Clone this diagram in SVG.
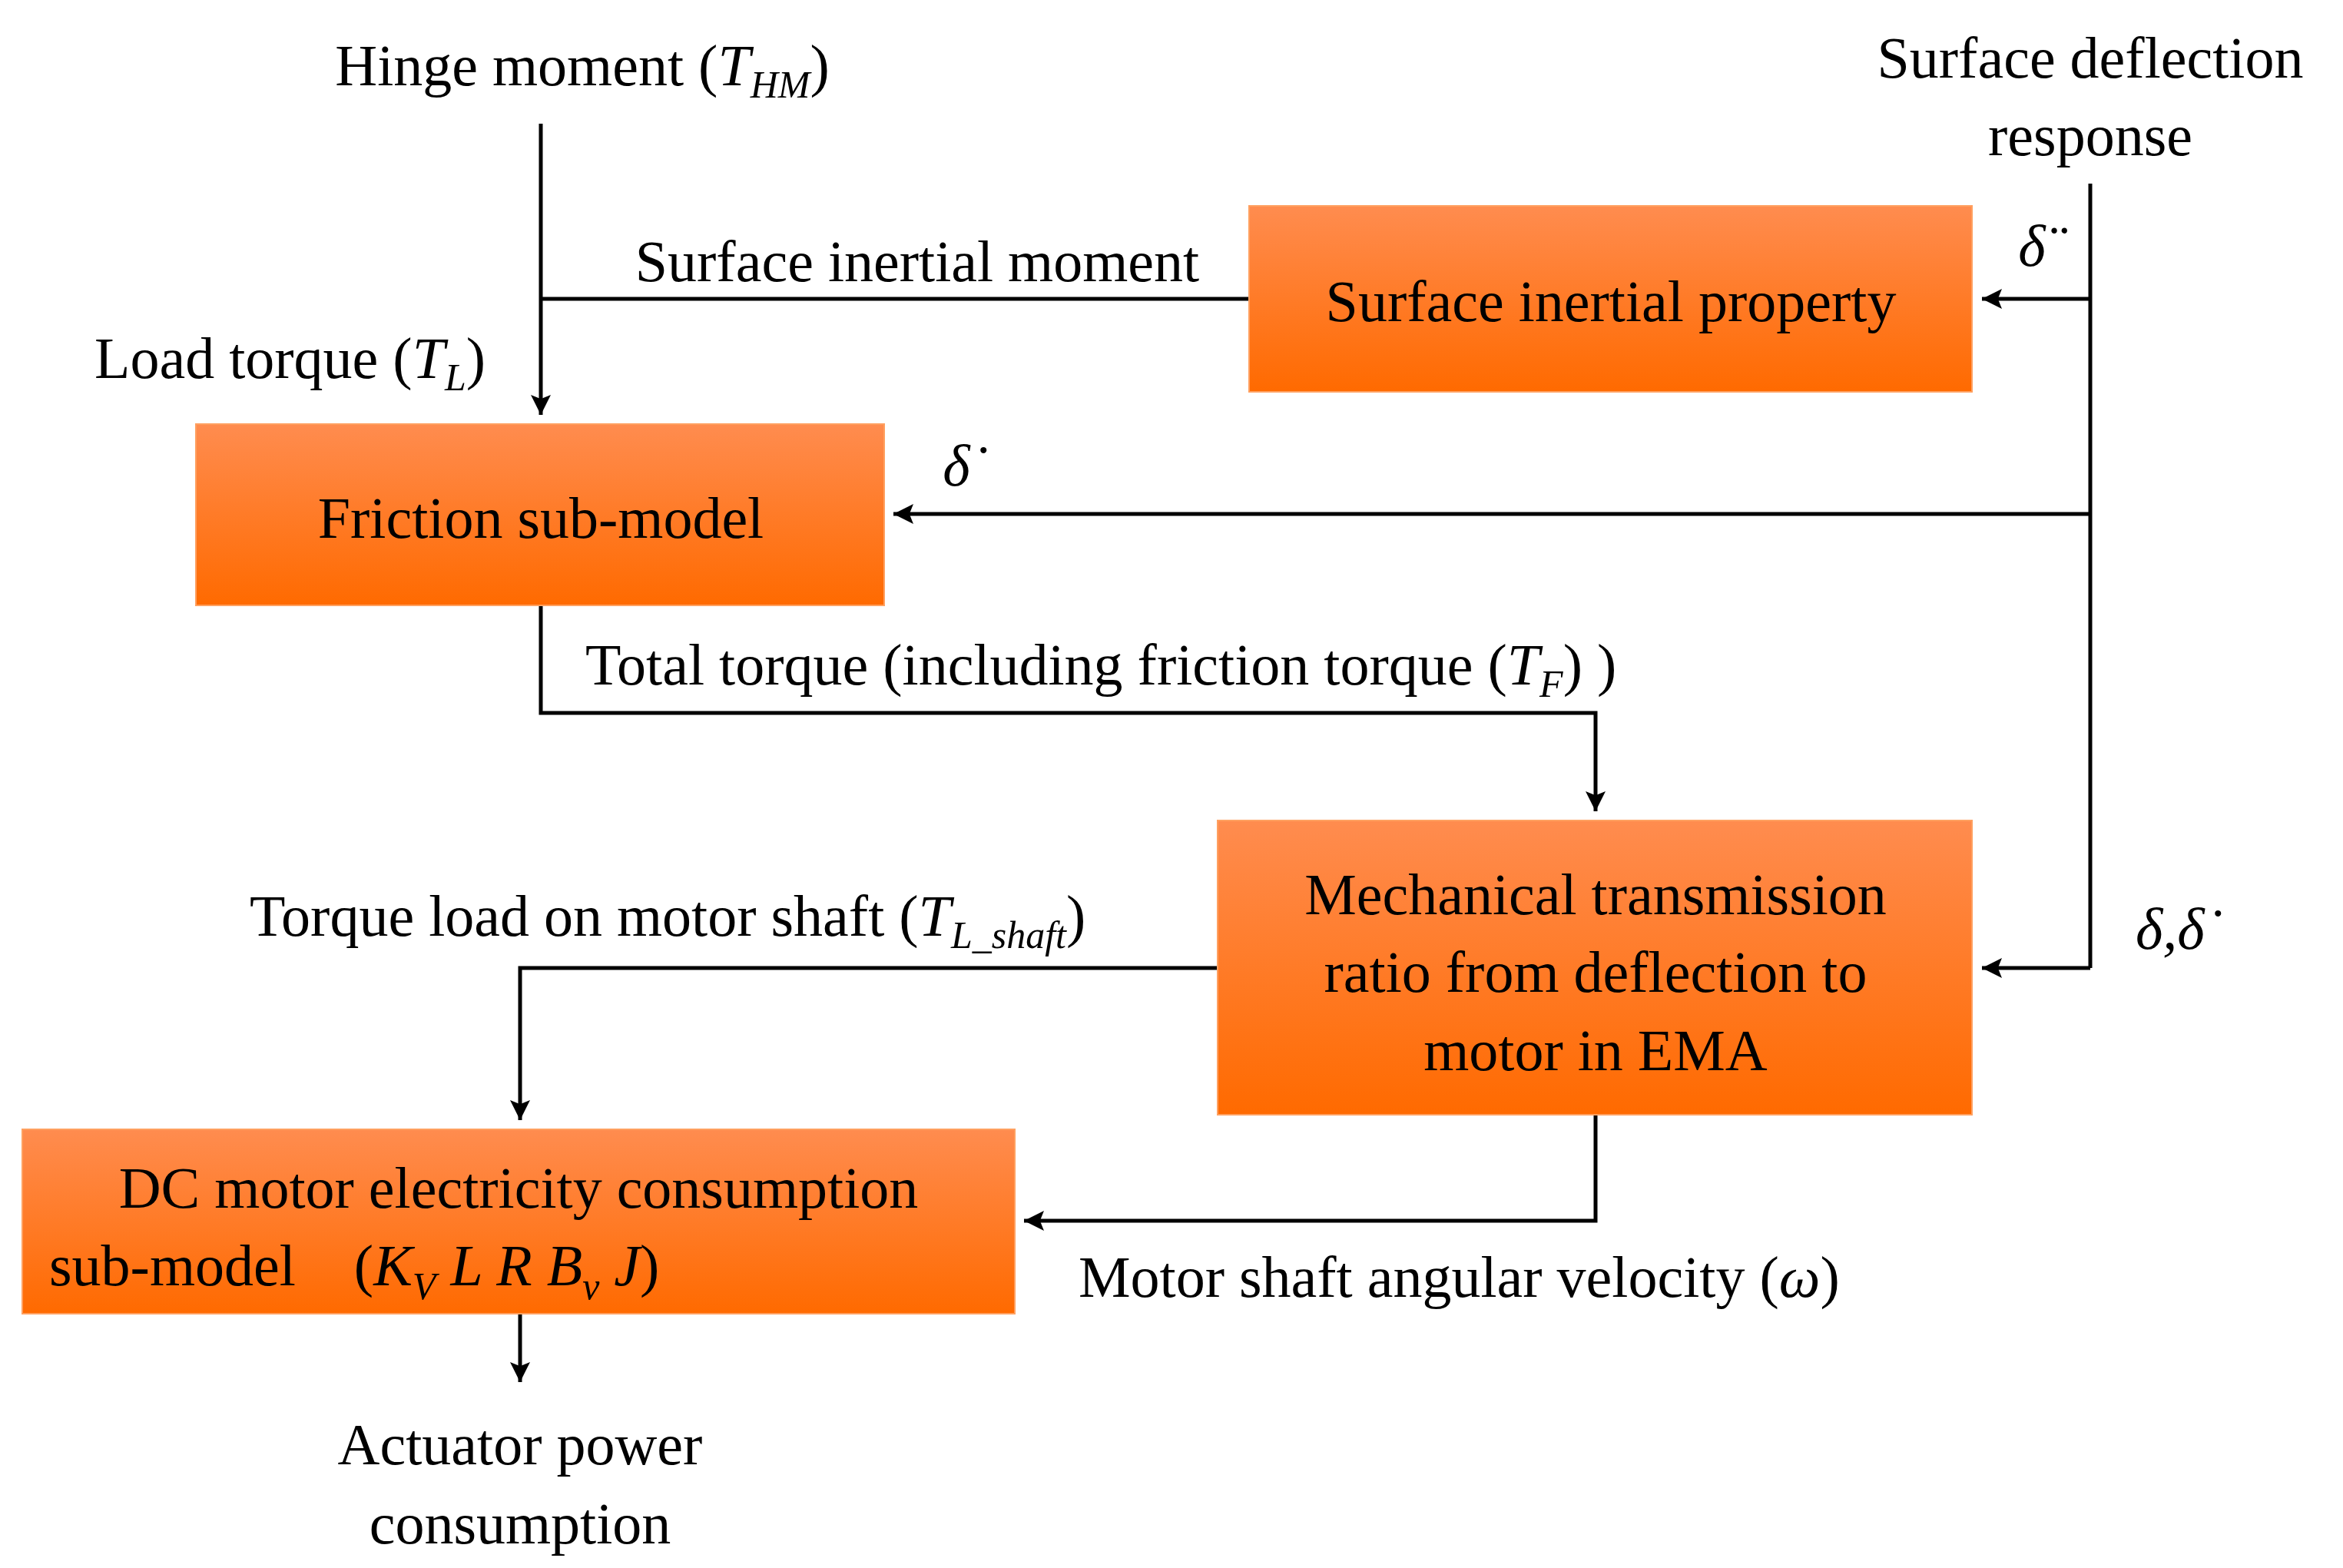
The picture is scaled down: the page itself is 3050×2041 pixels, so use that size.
<svg xmlns="http://www.w3.org/2000/svg" width="3050" height="2041" viewBox="0 0 3050 2041">
<defs>
<linearGradient id="g" x1="0" y1="0" x2="0" y2="1"><stop offset="0" stop-color="#FF8C4F"/><stop offset="1" stop-color="#FF6A00"/></linearGradient>
<marker id="a" viewBox="0 0 10 10" refX="10" refY="5" markerWidth="6" markerHeight="6" markerUnits="userSpaceOnUse" orient="auto"><path d="M0,0 L10,5 L0,10 L2,5 z" fill="#000"/></marker>
<style>
text{font-family:"Liberation Serif","Times New Roman",serif;font-size:76px;fill:#000}
.m{text-anchor:middle}
.i{font-style:italic}
.s{font-size:50px;font-style:italic}
rect{fill:url(#g);stroke:#FFA060;stroke-width:2}
.c{fill:none;stroke:#000;stroke-width:5;marker-end:url(#a)}
.n{fill:none;stroke:#000;stroke-width:5}
</style>
<marker id="b" viewBox="0 0 10 10" refX="10" refY="5" markerWidth="26" markerHeight="26" markerUnits="userSpaceOnUse" orient="auto"><path d="M0,0 L10,5 L0,10 L2,5 z" fill="#000"/></marker>
</defs>
<rect width="3050" height="2041" fill="#fff" stroke="none" style="fill:#fff;stroke:none"/>
<g id="connectors">
<path class="n" d="M704,161 V540" style="marker-end:url(#b)"/>
<path class="n" d="M704,389 H1626"/>
<path class="n" d="M2721,239 V1260"/>
<path class="n" d="M2721,389 H2580" style="marker-end:url(#b)"/>
<path class="n" d="M2721,669 H1163" style="marker-end:url(#b)"/>
<path class="n" d="M2721,1260 H2580" style="marker-end:url(#b)"/>
<path class="n" d="M704,788 V928 H2077 V1056" style="marker-end:url(#b)"/>
<path class="n" d="M1585,1260 H677 V1458" style="marker-end:url(#b)"/>
<path class="n" d="M2077,1451 V1589 H1333" style="marker-end:url(#b)"/>
<path class="n" d="M677,1710 V1799" style="marker-end:url(#b)"/>
</g>
<g id="surface-inertial"><rect x="1626" y="268" width="941" height="242"/><text class="m" x="2097" y="418">Surface inertial property</text></g>
<g id="friction"><rect x="255" y="552" width="896" height="236"/><text class="m" x="704" y="700">Friction sub-model</text></g>
<g id="mechanical"><rect x="1585" y="1068" width="982" height="383"/>
<text class="m" x="2077" y="1190">Mechanical transmission</text><text class="m" x="2077" y="1291">ratio from deflection to</text><text class="m" x="2077" y="1393">motor in EMA</text></g>
<g id="dc-motor"><rect x="29" y="1470" width="1292" height="240"/>
<text class="m" x="675" y="1572">DC motor electricity  consumption</text>
<text x="64" y="1673" xml:space="preserve">sub-model    (<tspan class="i">K</tspan><tspan class="s" dy="18">V</tspan><tspan class="i" dy="-18"> L R B</tspan><tspan class="s" dy="18">v</tspan><tspan class="i" dy="-18"> J</tspan>)</text></g>
<g id="labels">
<text class="m" x="758" y="111">Hinge moment (<tspan class="i">T</tspan><tspan class="s" dy="16">HM</tspan><tspan dy="-16">)</tspan></text>
<text class="m" x="2721" y="101">Surface deflection</text>
<text class="m" x="2721" y="202">response</text>
<text class="m" x="1194" y="366">Surface inertial moment</text>
<text class="m i" x="2645" y="346">δ̈</text>
<text x="123" y="492">Load torque (<tspan class="i">T</tspan><tspan class="s" dy="16">L</tspan><tspan dy="-16">)</tspan></text>
<text class="m i" x="1245" y="632">δ̇</text>
<text x="762" y="891">Total torque (including friction torque (<tspan class="i">T</tspan><tspan class="s" dy="16">F</tspan><tspan dy="-16">) )</tspan></text>
<text class="i" x="2780" y="1235">δ,δ̇</text>
<text x="325" y="1218">Torque load on motor shaft (<tspan class="i">T</tspan><tspan class="s" dy="16">L_shaft</tspan><tspan dy="-16">)</tspan></text>
<text x="1404" y="1688">Motor shaft angular velocity (<tspan class="i">ω</tspan>)</text>
<text class="m" x="677" y="1906">Actuator power</text>
<text class="m" x="677" y="2009">consumption</text>
</g>
</svg>
